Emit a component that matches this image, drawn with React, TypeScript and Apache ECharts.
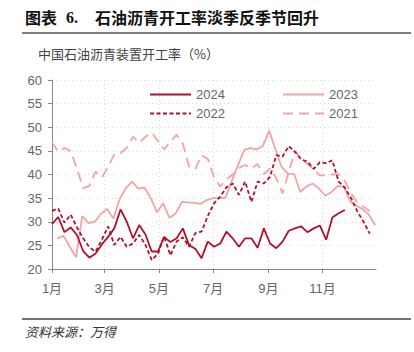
import React, { useEffect, useRef } from 'react';
import * as echarts from 'echarts';

// month ticks (day of year) and labels
const monthDays = [0, 59, 120, 181, 243, 304];
const monthLabels = ['1月', '3月', '5月', '7月', '9月', '11月'];

// weekly series: first observation day of year, then weekly values
const start2024 = 0;
const v2024 = [
  29.5, 31.0, 27.8, 28.8, 27.2, 23.8, 22.4, 23.3, 25.2, 26.8,
  28.6, 32.6, 30.0, 26.5, 29.3, 27.3, 23.7, 23.7, 26.8, 25.7,
  26.5, 28.6, 25.0, 24.3, 22.3, 25.8, 24.7, 25.4, 27.9, 26.5,
  24.7, 26.5, 26.5, 24.5, 28.6, 25.4, 24.4, 25.8, 28.1, 28.6,
  29.0, 27.8, 28.6, 29.2, 26.2, 30.9, 31.8, 32.5,
];
const start2023 = 6;
const v2023 = [
  26.5, 27.0, 24.7, 22.5, 31.2, 29.7, 30.0, 31.7, 32.7, 30.7,
  34.8, 37.1, 38.5, 37.0, 37.2, 35.0, 32.0, 33.9, 30.8, 31.8,
  34.2, 34.1, 34.0, 33.8, 34.6, 35.0, 35.0, 35.1, 38.6, 42.0,
  45.2, 45.6, 45.3, 46.1, 49.3, 45.3, 41.6, 40.2, 40.1, 36.3,
  37.5, 38.1, 37.0, 35.5, 36.3, 37.6, 37.4, 34.3, 33.4, 32.7,
  31.5, 29.3,
];
const start2022 = 0;
const v2022 = [
  32.3, 32.8, 29.8, 31.5, 28.8, 26.5, 24.6, 23.7, 26.2, 29.0,
  25.1, 26.8, 24.7, 25.4, 27.2, 25.1, 21.9, 23.2, 26.9, 22.9,
  25.8, 26.7, 24.7, 27.6, 27.9, 31.2, 33.9, 35.3, 37.3, 38.1,
  35.7, 38.5, 34.2, 38.5, 38.1, 39.5, 44.1, 43.8, 46.0, 44.8,
  43.2, 42.7, 41.2, 42.6, 42.4, 43.0, 38.5, 37.2, 35.0, 32.2,
  30.0, 27.5,
];
const start2021 = 0;
const v2021 = [
  46.9, 44.8, 45.6, 44.9, 41.3, 37.1, 37.6, 40.6, 39.4, 41.6,
  44.3, 44.5, 45.7, 48.0, 46.7, 48.0, 48.9, 47.1, 45.3, 47.0,
  48.4, 46.5, 41.7, 41.1, 44.1, 43.3, 39.5, 37.4, 39.0, 40.0,
  41.4, 42.0, 41.3, 42.2, 40.1, 41.3, 39.2, 36.0, 40.5, 45.0,
  43.3, 42.2, 41.1, 39.8, 39.9, 40.0, 40.1, 38.6, 36.0, 34.0,
  33.2, 32.2,
];

const DARK = '#B0112B';
const LIGHT = '#F0A5A5';
const SANS = '"Liberation Sans", "Noto Sans CJK SC", sans-serif';
const CJK = '"Noto Sans CJK SC", sans-serif';

const toPairs = (start: number, vals: number[]) => vals.map((v, i) => [start + 7 * i, v]);

export default function App() {
  const ref = useRef<HTMLDivElement>(null);
  useEffect(() => {
    if (!ref.current) return;
    const chart = echarts.init(ref.current, null, { renderer: 'svg' });
    const legendText = { color: '#666', fontSize: 13, fontFamily: SANS };
    const legendBase = {
      orient: 'vertical', top: 83, itemWidth: 41, itemHeight: 14, itemGap: 6,
      textStyle: legendText, itemStyle: { opacity: 0 },
    };
    chart.setOption({
      animation: false,
      backgroundColor: '#fff',
      grid: { left: 52, right: 38, top: 80, bottom: 83, containLabel: false },
      legend: [
        { ...legendBase, data: ['2024', '2022'], left: 144 },
        { ...legendBase, data: ['2023', '2021'], left: 277 },
      ],
      xAxis: {
        type: 'value', min: 0, max: 364,
        axisLine: { show: true, lineStyle: { color: '#888', width: 1 } },
        axisTick: { show: true, length: 4, customValues: monthDays, lineStyle: { color: '#888' } },
        axisLabel: {
          customValues: monthDays, margin: 13, color: '#666', fontSize: 13, fontFamily: SANS,
          formatter: (v: number) => {
            const idx = monthDays.indexOf(Math.round(v));
            return idx >= 0 ? monthLabels[idx] : '';
          },
        },
        splitLine: { show: true, lineStyle: { color: '#d8d8d8', type: [1, 3], width: 1 } },
      },
      yAxis: {
        type: 'value', min: 20, max: 60, interval: 5,
        axisLine: { show: true, lineStyle: { color: '#888', width: 1 } },
        axisTick: { show: true, length: 4, lineStyle: { color: '#888' } },
        axisLabel: { margin: 10, color: '#666', fontSize: 13, fontFamily: SANS },
        splitLine: { show: true, lineStyle: { color: '#d8d8d8', type: [1, 3], width: 1 } },
      },
      series: [
        {
          name: '2021', type: 'line', data: toPairs(start2021, v2021), symbol: 'none', showSymbol: false,
          lineStyle: { color: LIGHT, width: 1.8, type: [10, 6] }, itemStyle: { color: LIGHT }, z: 2,
        },
        {
          name: '2023', type: 'line', data: toPairs(start2023, v2023), symbol: 'none', showSymbol: false,
          lineStyle: { color: LIGHT, width: 1.8 }, itemStyle: { color: LIGHT }, z: 2,
        },
        {
          name: '2022', type: 'line', data: toPairs(start2022, v2022), symbol: 'none', showSymbol: false,
          lineStyle: { color: DARK, width: 1.8, type: [4, 2.5] }, itemStyle: { color: DARK }, z: 3,
        },
        {
          name: '2024', type: 'line', data: toPairs(start2024, v2024), symbol: 'none', showSymbol: false,
          lineStyle: { color: DARK, width: 1.8 }, itemStyle: { color: DARK }, z: 4,
        },
      ],
      graphic: [
        {
          type: 'text', x: 25, y: 17,
          style: { text: '图表', fill: '#111', fontSize: 16, fontWeight: 'bold', fontFamily: CJK, verticalAlign: 'middle' },
        },
        {
          type: 'text', x: 66, y: 17,
          style: { text: '6.', fill: '#111', fontSize: 16, fontWeight: 'bold', fontFamily: '"Liberation Serif", serif', verticalAlign: 'middle' },
        },
        {
          type: 'text', x: 95, y: 17,
          style: { text: '石油沥青开工率淡季反季节回升', fill: '#111', fontSize: 16, fontWeight: 'bold', fontFamily: CJK, verticalAlign: 'middle' },
        },
        {
          type: 'line', shape: { x1: 22, y1: 33, x2: 411, y2: 33 },
          style: { stroke: '#555', lineWidth: 1.5 },
        },
        {
          type: 'text', x: 38, y: 53,
          style: { text: '中国石油沥青装置开工率（%）', fill: '#444', fontSize: 13, fontFamily: CJK, verticalAlign: 'middle' },
        },
        {
          type: 'line', shape: { x1: 22, y1: 319, x2: 411, y2: 319 },
          style: { stroke: '#444', lineWidth: 1.5 },
        },
        {
          type: 'text', x: 25, y: 331,
          style: { text: '资料来源：万得', fill: '#333', fontSize: 13, fontStyle: 'italic', fontFamily: CJK, verticalAlign: 'middle' },
        },
      ],
    });
    return () => chart.dispose();
  }, []);
  return (
    <div
      ref={ref}
      style={{ position: 'fixed', left: 0, top: 0, width: 414, height: 352, background: '#fff' }}
    />
  );
}
